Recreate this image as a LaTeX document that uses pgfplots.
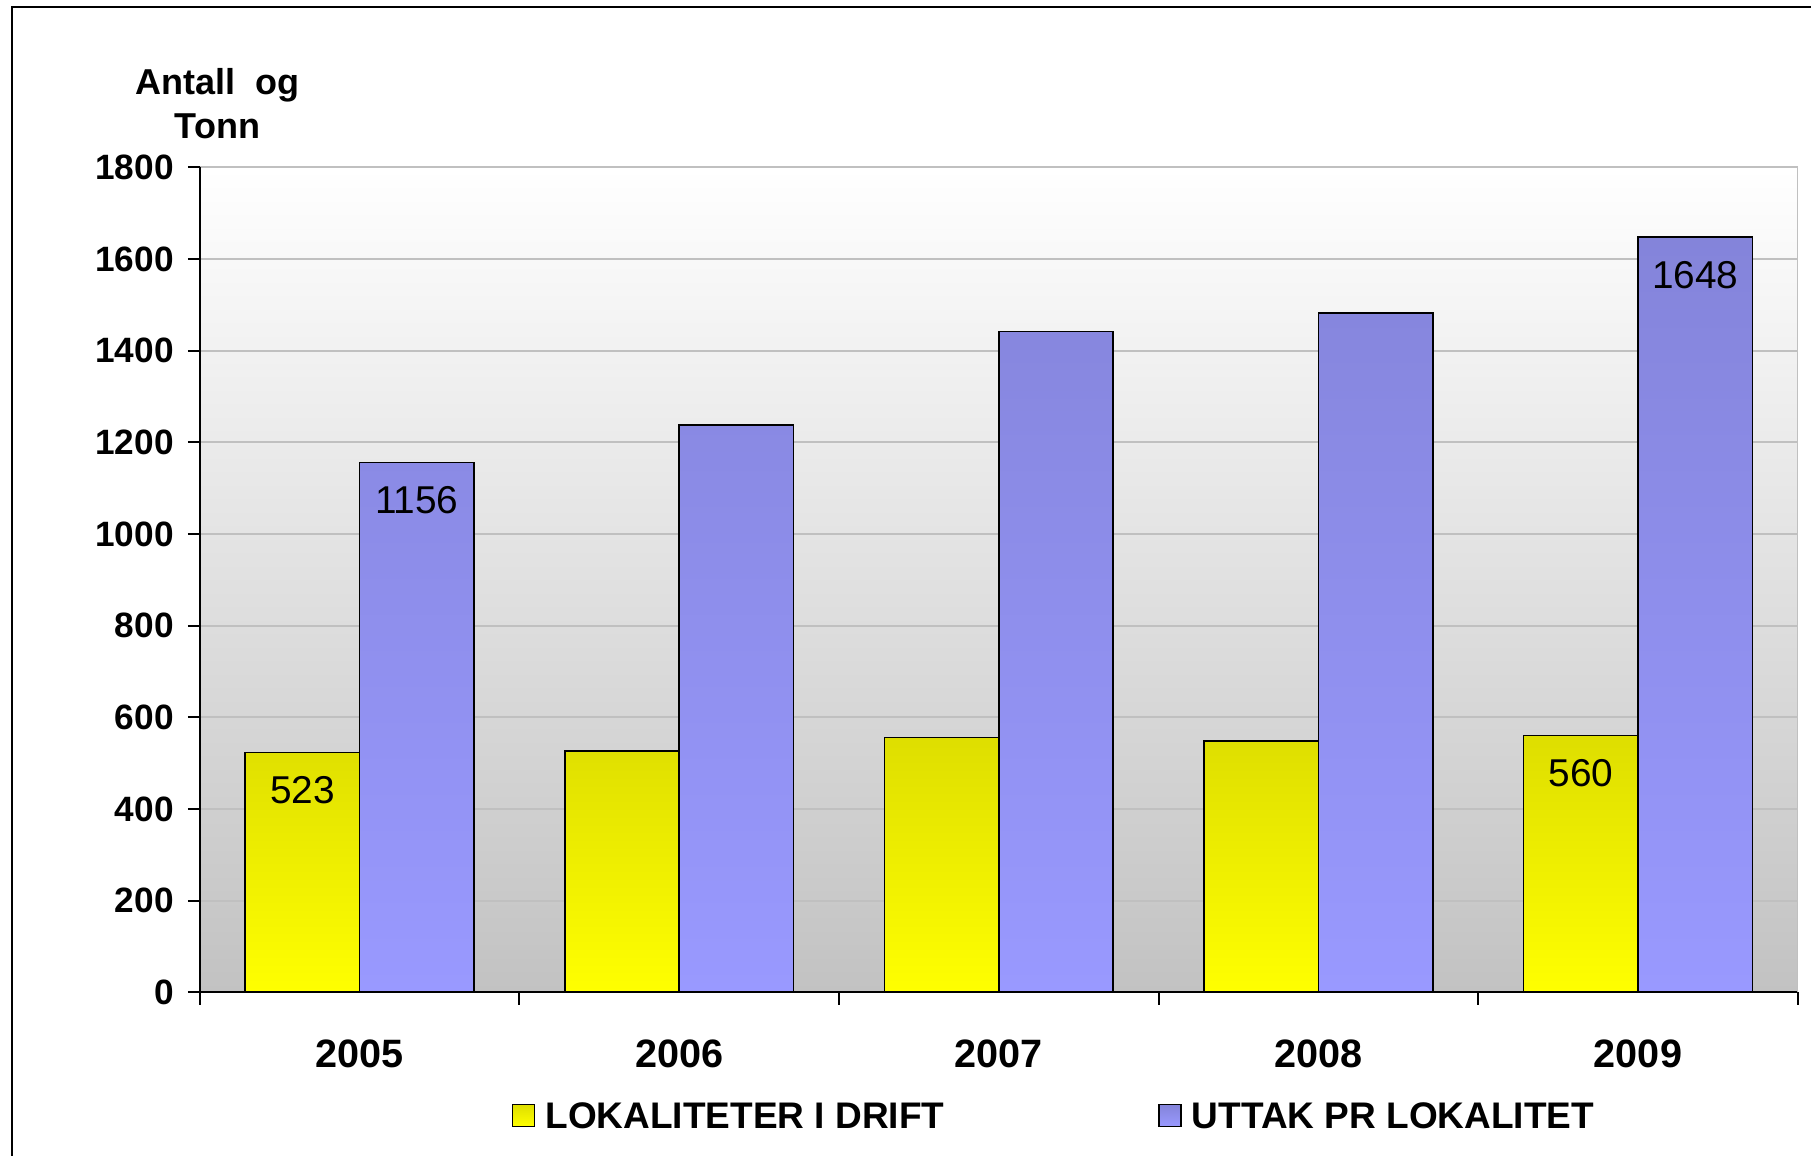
\documentclass[border=0pt]{standalone}
\usepackage{pgfplots}
\pgfplotsset{compat=1.18}
\usepackage{fontspec}
\setmainfont{Liberation Sans}
\definecolor{ytop}{HTML}{DEDE00}
\definecolor{ybot}{HTML}{FFFF00}
\definecolor{btop}{HTML}{8484DA}
\definecolor{bbot}{HTML}{9999FF}
\definecolor{gridc}{HTML}{C0C0C0}
\definecolor{bgbot}{HTML}{C2C2C2}
\begin{document}
\begin{tikzpicture}
\useasboundingbox (0,0) rectangle (452.75pt,289pt);
\draw[line width=0.55pt] (3pt,0) -- (3pt,287.2pt) -- (452.75pt,287.2pt);
\begin{axis}[
  at={(49.95pt,40.95pt)}, anchor=south west,
  width=399.5pt, height=206.2pt, scale only axis,
  xmin=-0.5, xmax=4.5, ymin=0, ymax=1800,
  axis x line*=bottom, axis y line*=left,
  axis line style={-, black, line width=0.5pt},
  axis background/.style={top color=white, bottom color=bgbot},
  ytick={0,200,...,1800},
  xtick={0,1,2,3,4},
  xticklabels={2005,2006,2007,2008,2009},
  minor xtick={-0.5,0.5,1.5,2.5,3.5,4.5},
  tick align=outside,
  major tick length=3pt,
  minor tick length=3.2pt,
  x tick style={draw=none},
  minor x tick style={draw=black, line width=0.5pt},
  y tick style={draw=black, line width=0.5pt},
  ymajorgrids,
  major grid style={draw=gridc, line width=0.5pt},
  scaled ticks=false,
  /pgf/number format/1000 sep={},
  /pgf/number format/assume math mode=true,
  yticklabel style={font=\fontsize{8.8}{10}\selectfont\bfseries},
  xticklabel style={font=\fontsize{9.9}{11}\selectfont\bfseries, anchor=center, yshift=-12.3pt},
  ylabel={Antall\ \ og\\Tonn},
  ylabel style={rotate=-90, at={(axis description cs:0.011,1.0769)}, anchor=center, align=center, font=\fontsize{9}{11}\selectfont\bfseries},
  legend columns=2,
  legend style={draw=none, fill=none, at={(axis description cs:0.1951,-0.1538)}, anchor=west,
    inner sep=0pt, outer sep=0pt, nodes={inner sep=0pt},
    font=\fontsize{9.25}{11}\selectfont\bfseries,
    /tikz/every odd column/.append style={column sep=2.6pt},
    /tikz/every even column/.append style={column sep=53.4pt}},
  mylegend/.style={legend image code/.code={\draw[##1, draw=black, line width=0.4pt] (0pt,-1.9pt) rectangle (5.5pt,3.6pt);}},
  point meta=explicit symbolic,
  nodes near coords,
  every node near coord/.append style={anchor=center, yshift=-9.5pt, font=\fontsize{9.7}{11}\selectfont, text=black},
]
\addplot[ybar, bar width=0.358, bar shift=-0.179, draw=black, line width=0.4pt, top color=ytop, bottom color=ybot, mylegend,
  every node near coord/.append style={xshift=-14.3pt}]
  coordinates {(0,523) [523] (1,527) [] (2,556) [] (3,548) [] (4,560) [560]};
\addlegendentry{LOKALITETER I DRIFT}
\addplot[ybar, bar width=0.358, bar shift=0.179, draw=black, line width=0.4pt, top color=btop, bottom color=bbot, mylegend,
  every node near coord/.append style={xshift=14.3pt}]
  coordinates {(0,1156) [1156] (1,1238) [] (2,1442) [] (3,1482) [] (4,1648) [1648]};
\addlegendentry{UTTAK PR LOKALITET}
\draw[gridc, line width=0.5pt] (rel axis cs:1,0) -- (rel axis cs:1,1);
\end{axis}
\end{tikzpicture}
\end{document}
